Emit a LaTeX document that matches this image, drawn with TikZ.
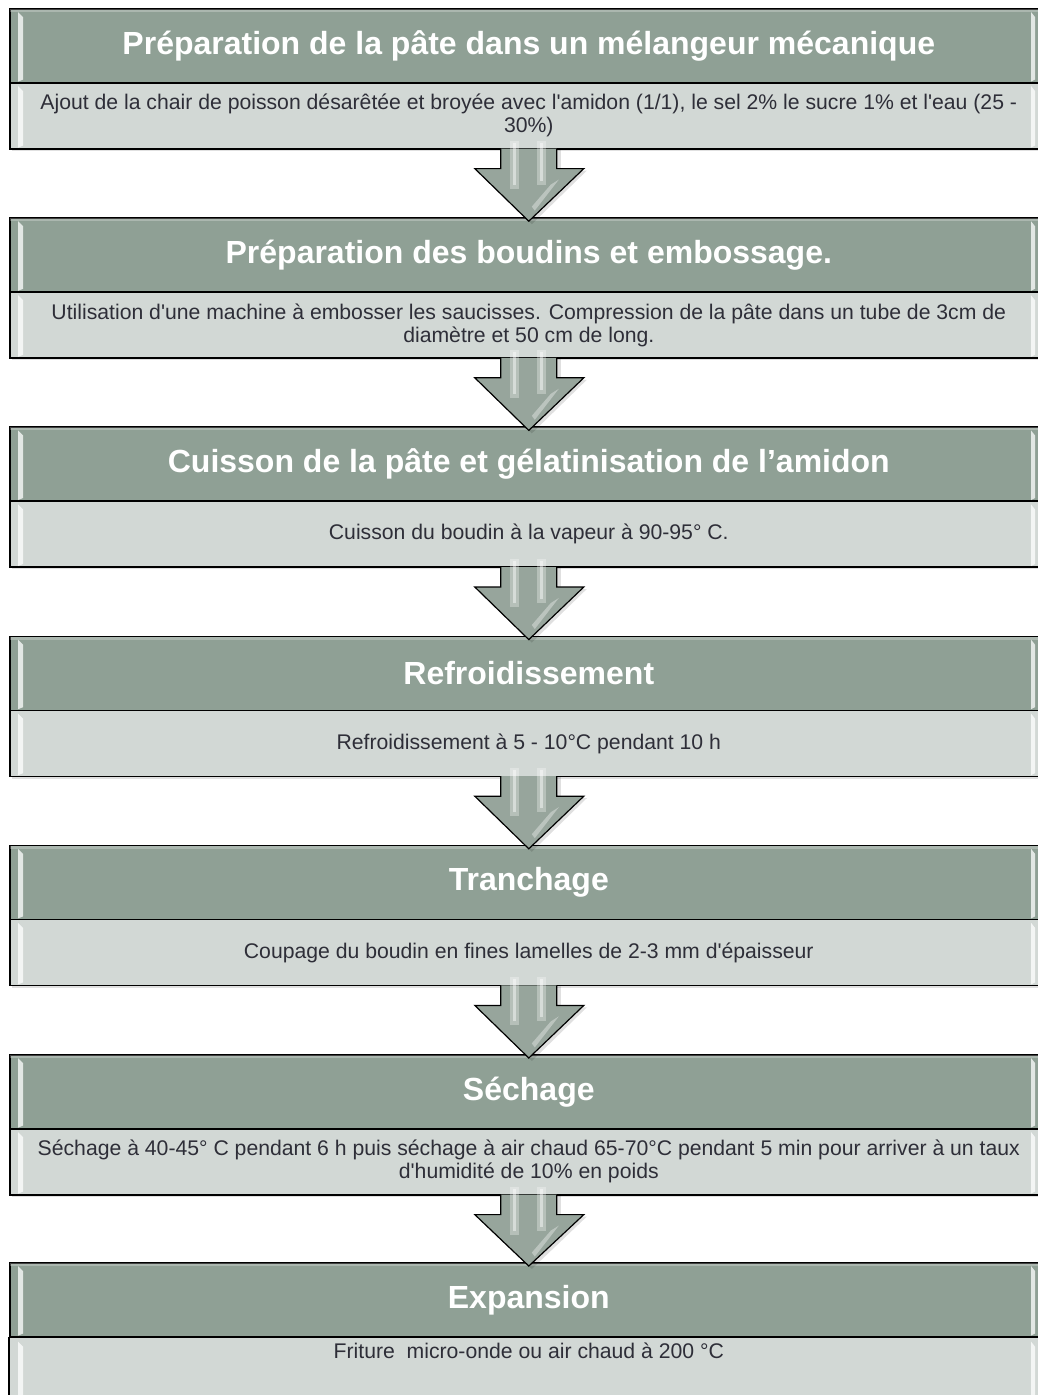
\documentclass[tikz,border=0pt]{standalone}
\usepackage{fontspec}
\setmainfont{Liberation Sans}[Ligatures=TeXOff]
\usetikzlibrary{calc}
\definecolor{headfill}{HTML}{8FA095}
\definecolor{bodyfill}{HTML}{D2D8D5}
\definecolor{bodytext}{HTML}{2E2E38}
\definecolor{arrowfill}{HTML}{97A59C}
\begin{document}
\begin{tikzpicture}[x=1pt,y=-1pt,
  headbox/.style={draw=black,line width=1.6pt,fill=headfill,minimum width=1038pt,
    minimum height=74pt,anchor=north west,inner sep=0pt,
    font=\fontsize{32}{36}\selectfont\bfseries,text=white,align=center},
  bodybox/.style={draw=black,line width=1.6pt,fill=bodyfill,minimum width=1038pt,
    minimum height=66pt,anchor=north west,inner sep=0pt,
    font=\fontsize{21.2}{23}\selectfont,text=bodytext,align=center},
  bodytextonly/.style={bodybox,draw=none,fill=none,minimum height=25pt},
  gloss/.style={fill=white,fill opacity=0.75,draw=none},
  flowarrow/.style={draw=black,line width=1.2pt,fill=arrowfill,line join=miter}]
\useasboundingbox (0,0) rectangle (1038,1395);
\begin{scope}
\clip (0,0) rectangle (1038,1395);

% glossy bevels at both ends of a bar (#1 = node name)
\def\bevels#1{%
  \fill[gloss] ($(#1.north west)+(9,4)$) -- ($(#1.north west)+(14,9)$)
    -- ($(#1.south west)+(14,-4)$) -- ($(#1.south west)+(9,-2)$) -- cycle;
  \fill[gloss] ($(#1.north west)+(1022,4)$) -- ($(#1.north west)+(1026,9)$)
    -- ($(#1.south west)+(1026,-4)$) -- ($(#1.south west)+(1022,-2)$) -- cycle;}

% boxes: header + body, 209.2pt apart
\foreach \k/\title/\body in {
  0/{Préparation de la pâte dans un mélangeur mécanique}/{Ajout de la chair de poisson désarêtée et broyée avec l'amidon (1/1), le sel 2\% le sucre 1\% et l'eau (25 -\\30\%)},
  1/{Préparation des boudins et embossage.}/{Utilisation d'une machine à embosser les saucisses. Compression de la pâte dans un tube de 3cm de\\diamètre et 50 cm de long.},
  2/{Cuisson de la pâte et gélatinisation de l’amidon}/{Cuisson du boudin à la vapeur à 90-95° C.},
  3/{Refroidissement}/{Refroidissement à 5 - 10°C pendant 10 h},
  4/{Tranchage}/{Coupage du boudin en fines lamelles de 2-3 mm d'épaisseur},
  5/{Séchage}/{Séchage à 40-45° C pendant 6 h puis séchage à air chaud 65-70°C pendant 5 min pour arriver à un taux\\d'humidité de 10\% en poids}} {
  \pgfmathsetmacro{\top}{8+209.2*\k}
  % soft shadow
  \fill[black,opacity=0.12] (12,\top+4) rectangle (1047,\top+143);
  \node[headbox] (h\k) at (9,\top) {\title};
  \node[bodybox] (b\k) at (9,\top+74) {\body};
  % light rim along the header top
  \fill[white,opacity=0.25] ($(h\k.north west)+(1,1)$) rectangle ($(h\k.north east)+(-1,4)$);
  \bevels{h\k}
  \bevels{b\k}
}

% last box: its body runs past the lower edge, text near its top
\fill[black,opacity=0.12] (12,1267) rectangle (1047,1420);
\node[headbox] (h6) at (9,1262) {Expansion};
\fill[white,opacity=0.25] ($(h6.north west)+(1,1)$) rectangle ($(h6.north east)+(-1,4)$);
\bevels{h6}
\draw[line width=1.6pt,fill=bodyfill] (h6.south west) rectangle ($(h6.south east)+(0,90)$);
\node[bodytextonly] (b6) at (h6.south west) {Friture~ micro-onde ou air chaud à 200 °C};
\fill[gloss] ($(b6.north west)+(9,4)$) -- ($(b6.north west)+(14,9)$)
  -- ($(b6.north west)+(14,66)$) -- ($(b6.north west)+(9,68)$) -- cycle;
\fill[gloss] ($(b6.north west)+(1022,4)$) -- ($(b6.north west)+(1026,9)$)
  -- ($(b6.north west)+(1026,66)$) -- ($(b6.north west)+(1022,68)$) -- cycle;

% down arrows between consecutive boxes
\foreach \k [evaluate=\k as \nx using int(\k+1)] in {0,...,5} {
  \coordinate (s\k) at ($(b\k.south)+(0,-1)$);
  \coordinate (t\k) at (h\nx.north);
  \fill[black,opacity=0.12] ($(s\k)+(-26,1)$) -- ($(s\k)+(-26,22)$) -- ($(s\k)+(-52,22)$)
    -- ($(t\k)+(3,7)$) -- ($(s\k)+(58,22)$) -- ($(s\k)+(32,22)$) -- ($(s\k)+(32,1)$) -- cycle;
  \filldraw[flowarrow] ($(s\k)+(-28,0)$) -- ($(s\k)+(-28,20)$) -- ($(s\k)+(-54,20)$)
    -- ($(t\k)+(0,4)$) -- ($(s\k)+(55,20)$) -- ($(s\k)+(28,20)$) -- ($(s\k)+(28,0)$);
  % shaft highlights
  \fill[white,opacity=0.3] ($(s\k)+(-19,-8)$) rectangle ($(s\k)+(-10,40)$);
  \fill[white,opacity=0.45] ($(s\k)+(-16,-6)$) rectangle ($(s\k)+(-13,36)$);
  \fill[white,opacity=0.3] ($(s\k)+(8,-8)$) rectangle ($(s\k)+(17,36)$);
  \fill[white,opacity=0.45] ($(s\k)+(11,-6)$) rectangle ($(s\k)+(14,32)$);
  % glint on the right face of the head
  \fill[white,opacity=0.35] ($(s\k)+(22,36)$) -- ($(s\k)+(30,31)$) -- ($(s\k)+(6,62)$) -- ($(s\k)+(3,58)$) -- cycle;
}
\end{scope}
\end{tikzpicture}
\end{document}
